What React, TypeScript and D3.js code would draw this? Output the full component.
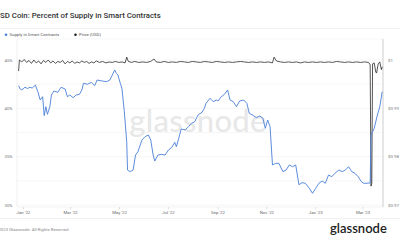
import React from "react";
import * as d3 from "d3";

const TITLE = "USD Coin: Percent of Supply in Smart Contracts";
const LEGEND = ["Supply in Smart Contracts", "Price (USD)"];
const LEFT_TICKS = [30, 35, 40, 45];
const RIGHT_TICKS = [0.97, 0.98, 0.99, 1.0];
const GRID_TICKS = [30, 32.5, 35, 37.5, 40, 42.5, 45];

const supply: [string, number][] = [
  ["2021-12-26", 42.34], ["2021-12-28", 42.0], ["2021-12-30", 41.9], ["2022-01-03", 42.18],
  ["2022-01-06", 42.05], ["2022-01-09", 42.18], ["2022-01-12", 42.1], ["2022-01-16", 42.41],
  ["2022-01-19", 41.72], ["2022-01-22", 40.86], ["2022-01-25", 41.2], ["2022-01-27", 39.24],
  ["2022-01-29", 40.17], ["2022-01-31", 39.38], ["2022-02-03", 40.17], ["2022-02-05", 41.38],
  ["2022-02-08", 41.79], ["2022-02-13", 41.66], ["2022-02-17", 42.18], ["2022-02-22", 42.0],
  ["2022-02-25", 41.2], ["2022-02-28", 41.38], ["2022-03-04", 41.1], ["2022-03-08", 41.38],
  ["2022-03-12", 41.45], ["2022-03-15", 41.9], ["2022-03-17", 42.59], ["2022-03-22", 42.49],
  ["2022-03-27", 42.69], ["2022-03-31", 42.34], ["2022-04-03", 42.93], ["2022-04-09", 42.83],
  ["2022-04-15", 42.76], ["2022-04-19", 42.93], ["2022-04-23", 43.62], ["2022-04-25", 43.97],
  ["2022-04-27", 43.62], ["2022-04-29", 43.45], ["2022-05-02", 42.59], ["2022-05-04", 42.07],
  ["2022-05-07", 39.65], ["2022-05-10", 36.55], ["2022-05-11", 33.62], ["2022-05-14", 33.45],
  ["2022-05-18", 33.62], ["2022-05-21", 35.17], ["2022-05-24", 35.51], ["2022-05-29", 36.72],
  ["2022-06-02", 37.07], ["2022-06-06", 37.24], ["2022-06-09", 36.72], ["2022-06-12", 35.17],
  ["2022-06-14", 34.55], ["2022-06-18", 35.17], ["2022-06-22", 35.24], ["2022-06-27", 35.17],
  ["2022-07-01", 35.69], ["2022-07-05", 35.93], ["2022-07-09", 36.49], ["2022-07-11", 36.03],
  ["2022-07-14", 36.9], ["2022-07-17", 37.86], ["2022-07-22", 37.76], ["2022-07-26", 38.1],
  ["2022-07-30", 38.45], ["2022-08-03", 38.62], ["2022-08-07", 39.31], ["2022-08-12", 39.59],
  ["2022-08-15", 40.0], ["2022-08-17", 40.52], ["2022-08-22", 41.04], ["2022-08-26", 40.69],
  ["2022-08-30", 40.86], ["2022-09-01", 40.76], ["2022-09-05", 41.2], ["2022-09-09", 41.45],
  ["2022-09-13", 41.9], ["2022-09-16", 40.86], ["2022-09-20", 40.69], ["2022-09-24", 40.17],
  ["2022-09-28", 40.76], ["2022-10-03", 40.86], ["2022-10-07", 40.52], ["2022-10-10", 39.49],
  ["2022-10-14", 39.31], ["2022-10-19", 39.03], ["2022-10-23", 39.21], ["2022-10-27", 38.97],
  ["2022-10-30", 37.93], ["2022-11-02", 38.79], ["2022-11-05", 38.1], ["2022-11-08", 34.14],
  ["2022-11-12", 34.31], ["2022-11-16", 34.31], ["2022-11-21", 33.45], ["2022-11-25", 33.62],
  ["2022-11-29", 34.14], ["2022-12-03", 33.96], ["2022-12-07", 34.14], ["2022-12-11", 32.1],
  ["2022-12-15", 32.31], ["2022-12-19", 32.25], ["2022-12-24", 31.73], ["2022-12-28", 31.21],
  ["2023-01-01", 31.73], ["2023-01-05", 32.25], ["2023-01-09", 32.48], ["2023-01-13", 32.25],
  ["2023-01-17", 33.1], ["2023-01-21", 32.93], ["2023-01-25", 33.28], ["2023-01-30", 33.62],
  ["2023-02-03", 33.45], ["2023-02-07", 33.62], ["2023-02-11", 33.96], ["2023-02-15", 33.45],
  ["2023-02-19", 33.28], ["2023-02-23", 32.93], ["2023-02-27", 32.41], ["2023-03-02", 32.25],
  ["2023-03-06", 32.25], ["2023-03-10", 32.28], ["2023-03-11", 37.24], ["2023-03-15", 37.93],
  ["2023-03-19", 39.31], ["2023-03-22", 40.17], ["2023-03-25", 41.72],
];

const price: [string, number][] = [
  ["2021-12-26", 0.9977], ["2021-12-27", 1.0], ["2021-12-30", 0.9996], ["2022-01-02", 1.0001],
  ["2022-01-05", 0.9995], ["2022-01-08", 0.9999], ["2022-01-11", 0.9993], ["2022-01-14", 1.0],
  ["2022-01-17", 0.9994], ["2022-01-20", 0.9998], ["2022-01-23", 0.9992], ["2022-01-26", 0.9999],
  ["2022-01-29", 0.9995], ["2022-02-01", 1.0], ["2022-02-04", 0.9994], ["2022-02-07", 0.9998],
  ["2022-02-10", 0.9993], ["2022-02-13", 0.9997], ["2022-02-16", 0.9995], ["2022-02-19", 0.9999],
  ["2022-02-22", 0.9992], ["2022-02-25", 0.9997], ["2022-02-28", 0.9994], ["2022-03-03", 0.9998],
  ["2022-03-06", 0.9993], ["2022-03-09", 0.9996], ["2022-03-12", 0.9994], ["2022-03-15", 0.9998],
  ["2022-03-18", 0.9995], ["2022-03-21", 0.9997], ["2022-03-24", 0.9993], ["2022-03-27", 0.9996],
  ["2022-03-30", 0.9994], ["2022-04-02", 0.9998], ["2022-04-06", 0.9995], ["2022-04-10", 0.9997],
  ["2022-04-14", 0.9994], ["2022-04-18", 0.9996], ["2022-04-22", 0.9995], ["2022-04-26", 0.9997],
  ["2022-04-30", 0.9995], ["2022-05-04", 0.9996], ["2022-05-08", 0.9994], ["2022-05-10", 1.0006],
  ["2022-05-12", 0.9997], ["2022-05-16", 0.9995], ["2022-05-20", 0.9997], ["2022-05-25", 0.9995],
  ["2022-05-30", 0.9996], ["2022-06-04", 0.9995], ["2022-06-09", 0.9997], ["2022-06-13", 1.0002],
  ["2022-06-16", 0.9996], ["2022-06-21", 0.9995], ["2022-06-26", 0.9997], ["2022-07-01", 0.9995],
  ["2022-07-06", 0.9996], ["2022-07-11", 0.9995], ["2022-07-16", 0.9997], ["2022-07-21", 0.9996],
  ["2022-07-26", 0.9995], ["2022-07-31", 0.9997], ["2022-08-05", 0.9996], ["2022-08-10", 0.9995],
  ["2022-08-15", 0.9997], ["2022-08-20", 0.9996], ["2022-08-25", 0.9995], ["2022-08-30", 0.9997],
  ["2022-09-04", 0.9996], ["2022-09-09", 0.9995], ["2022-09-14", 0.9996], ["2022-09-19", 0.9995],
  ["2022-09-24", 0.9996], ["2022-09-29", 0.9997], ["2022-10-04", 0.9996], ["2022-10-09", 0.9995],
  ["2022-10-14", 0.9996], ["2022-10-19", 0.9995], ["2022-10-24", 0.9996], ["2022-10-29", 0.9995],
  ["2022-11-03", 0.9996], ["2022-11-08", 0.9994], ["2022-11-10", 1.0006], ["2022-11-13", 0.9998],
  ["2022-11-18", 0.9996], ["2022-11-23", 0.9995], ["2022-11-28", 0.9996], ["2022-12-03", 0.9995],
  ["2022-12-08", 0.9996], ["2022-12-13", 0.9994], ["2022-12-18", 0.9996], ["2022-12-23", 0.9995],
  ["2022-12-28", 0.9996], ["2023-01-02", 0.9995], ["2023-01-07", 0.9996], ["2023-01-12", 0.9995],
  ["2023-01-17", 0.9996], ["2023-01-22", 0.9995], ["2023-01-27", 0.9997], ["2023-02-01", 0.9996],
  ["2023-02-06", 0.9995], ["2023-02-11", 0.9996], ["2023-02-16", 0.9995], ["2023-02-21", 0.9996],
  ["2023-02-26", 0.9995], ["2023-03-03", 0.9996], ["2023-03-08", 0.9995], ["2023-03-10", 0.999],
  ["2023-03-11", 0.9739], ["2023-03-12", 0.9745], ["2023-03-13", 0.9992], ["2023-03-15", 0.9994],
  ["2023-03-17", 0.9975], ["2023-03-18", 0.9973], ["2023-03-20", 0.9992], ["2023-03-22", 0.9996],
  ["2023-03-24", 0.998], ["2023-03-25", 0.9986],
];

const parse = d3.timeParse("%Y-%m-%d");
const FONT = "Roboto, 'Noto Sans', sans-serif";

export default function App() {
  const W = 400, H = 240;
  const L = 17, R = 383, T = 39, B = 207;
  const x = d3.scaleTime()
    .domain([parse("2021-12-24")!, parse("2023-03-26")!])
    .range([L, R]);
  const yL = d3.scaleLinear().domain([30, 45]).range([205, 60]);
  const yR = d3.scaleLinear().domain([0.97, 1.0]).range([205, 60]);

  const supplyLine = d3.line<[string, number]>()
    .x((d) => x(parse(d[0])!))
    .y((d) => yL(d[1]));
  const priceLine = d3.line<[string, number]>()
    .x((d) => x(parse(d[0])!))
    .y((d) => yR(d[1]));

  const xTicks = x.ticks(d3.timeMonth.every(2)!);
  const fmt = d3.timeFormat("%b '%y");
  const fmtPct = (v: number) => `${v}%`;
  const fmtUsd = (v: number) => (v === 1 ? "$1" : `$${v.toFixed(2)}`);

  return (
    <svg width={W} height={H} style={{ position: "absolute", left: 0, top: 0, background: "#fff" }} fontFamily={FONT}>
      <rect x={0} y={0} width={W} height={H} fill="#fff" />
      <text x={-5} y={18} fontSize={7.8} fontWeight={500} fill="#333">{TITLE}</text>
      <line x1={0} x2={W} y1={28.5} y2={28.5} stroke="#eeeeee" strokeWidth={0.8} />

      {/* legend */}
      <circle cx={6} cy={34.8} r={1.3} fill="#4a7fd8" />
      <text x={9.5} y={36.3} fontSize={4.3} fill="#555">{LEGEND[0]}</text>
      <circle cx={75.5} cy={34.8} r={1.3} fill="#222" />
      <text x={79} y={36.3} fontSize={4.3} fill="#555">{LEGEND[1]}</text>

      {/* grid */}
      {GRID_TICKS.map((t) => (
        <line key={t} x1={L} x2={R} y1={yL(t)} y2={yL(t)} stroke="#f0f0f0" strokeWidth={0.6} />
      ))}
      <line x1={L} x2={R} y1={T} y2={T} stroke="#f2f2f2" strokeWidth={0.6} />
      <line x1={L} x2={R} y1={B} y2={B} stroke="#eaeaea" strokeWidth={0.6} />
      <line x1={L} x2={L} y1={T} y2={B} stroke="#e8e8e8" strokeWidth={0.6} />
      <line x1={R} x2={R} y1={T} y2={B} stroke="#dcdcdc" strokeWidth={1.4} />

      {/* watermark */}
      <text x={198} y={132} fontSize={31} fontFamily="Lato, sans-serif" fontWeight={500} fill="#e8e8e8" textAnchor="middle" letterSpacing={0.3}>glassnode</text>

      {/* left axis */}
      {LEFT_TICKS.map((t) => (
        <text key={t} x={12.5} y={yL(t) + 1.5} fontSize={4.3} fill="#777" textAnchor="end">{fmtPct(t)}</text>
      ))}
      {/* right axis */}
      {RIGHT_TICKS.map((t) => (
        <text key={t} x={388} y={yR(t) + 1.5} fontSize={4.3} fill="#777">{fmtUsd(t)}</text>
      ))}
      {/* x axis */}
      {xTicks.map((t) => (
        <g key={t.getTime()}>
          <line x1={x(t)} x2={x(t)} y1={B} y2={B + 2.5} stroke="#ccc" strokeWidth={0.6} />
          <text x={x(t)} y={214} fontSize={4.3} fill="#666" textAnchor="middle">{fmt(t)}</text>
        </g>
      ))}

      <path d={priceLine(price) || ""} fill="none" stroke="#2b2b2b" strokeWidth={0.8} />
      <path d={supplyLine(supply) || ""} fill="none" stroke="#4a7fd8" strokeWidth={0.9} />

      {/* footer */}
      <line x1={0} x2={W} y1={218.5} y2={218.5} stroke="#eeeeee" strokeWidth={0.8} />
      <text x={-6} y={230.5} fontSize={4.3} fill="#888">© 2023 Glassnode. All Rights Reserved.</text>
      <text x={330} y={232.5} fontSize={13} fontFamily="Lato, sans-serif" fontWeight={600} fill="#222">glassnode</text>
    </svg>
  );
}
